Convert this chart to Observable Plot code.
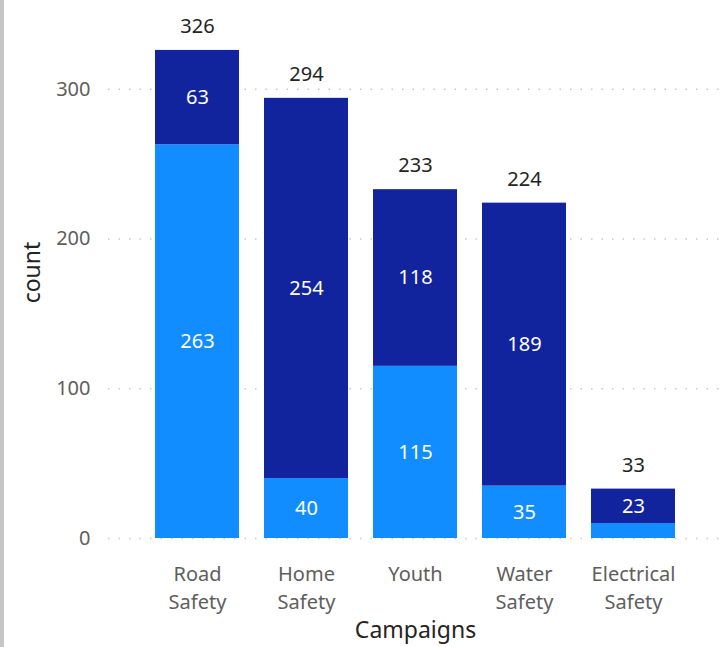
<!DOCTYPE html>
<html><head><meta charset="utf-8">
<script src="https://cdn.jsdelivr.net/npm/d3@7"></script>
<script src="https://cdn.jsdelivr.net/npm/@observablehq/plot@0.6"></script>
<style>
body{margin:0;background:#fff;}
#chart{position:relative;width:722px;height:647px;overflow:hidden;}
#chart::before{content:"";position:absolute;left:0;top:0;width:4px;height:647px;background:#c8c6c4;}
</style></head><body><div id="chart"></div>
<script>
const campaigns = ["Road Safety","Home Safety","Youth","Water Safety","Electrical Safety"];
const seriesNames = ["Group 1","Group 2"];
const lightValues = [263,40,115,35,10];
const darkValues = [63,254,118,189,23];
const totals = [326,294,233,224,33];
const yTicks = [0,100,200,300];

const rows = [];
campaigns.forEach((c,i)=>{
  rows.push({campaign:c, series:seriesNames[0], value:lightValues[i]});
  rows.push({campaign:c, series:seriesNames[1], value:darkValues[i]});
});

const plot = Plot.plot({
  width:722, height:647,
  marginLeft:108, marginRight:0, marginTop:14, marginBottom:109,
  style:{fontFamily:"'Noto Sans', sans-serif", fontSize:"20px", color:"#605E5C", background:"transparent"},
  x:{domain:campaigns, paddingInner:0.227, paddingOuter:0.405, label:null},
  y:{domain:[0,350], label:null},
  color:{domain:seriesNames, range:["#118DFF","#12239E"]},
  marks:[
    Plot.ruleY(yTicks, {stroke:"#c8c8c8", strokeDasharray:"1.5,9", strokeWidth:1.5}),
    Plot.axisY({ticks:yTicks, tickSize:0, tickPadding:18, label:null, fill:"#605E5C", fontSize:20}),
    Plot.axisX({tickSize:0, tickPadding:23, tickFormat:d=>d.replace(" ","\n"), lineHeight:1.4, label:null, fill:"#605E5C", fontSize:20}),
    Plot.barY(rows, {x:"campaign", y:"value", fill:"series"}),
    Plot.text(rows, Plot.stackY({x:"campaign", y:"value", text:d=>d.value>=20?String(d.value):"", fill:"white", fontSize:20})),
    Plot.text(campaigns, {x:d=>d, y:(d,i)=>totals[i], text:(d,i)=>String(totals[i]), dy:-24, fill:"#252423", fontSize:20}),
    Plot.text(["count"], {frameAnchor:"left", textAnchor:"middle", dx:-76, dy:-4, rotate:-90, fill:"#252423", fontSize:23}),
    Plot.text(["Campaigns"], {frameAnchor:"bottom", dy:99, fill:"#252423", fontSize:23})
  ]
});
document.getElementById("chart").appendChild(plot);
</script></body></html>
